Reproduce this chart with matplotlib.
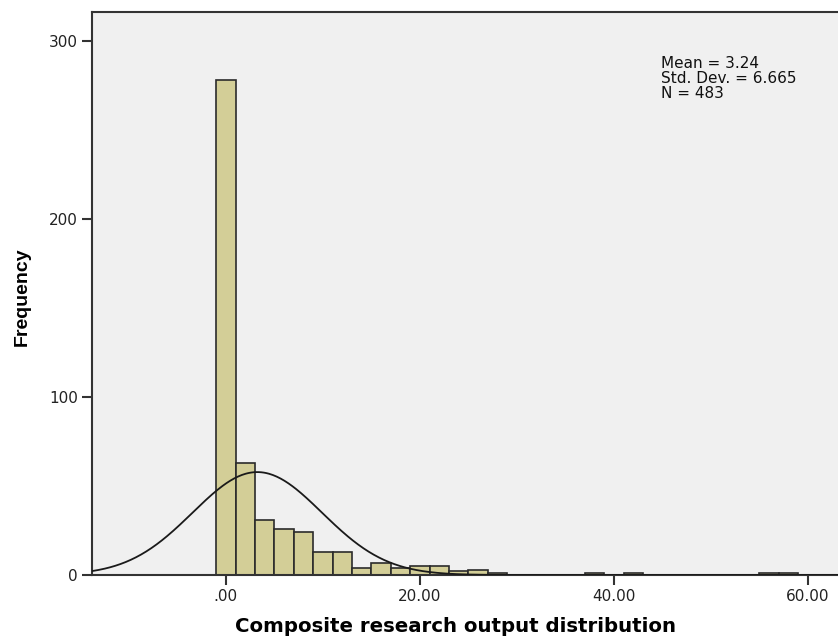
import numpy as np
import matplotlib
matplotlib.use("Agg")
import matplotlib.pyplot as plt

plt.rcParams['font.family'] = ['DejaVu Sans']

# Histogram bins (width 2, centred on even values) and counts
bin_centers = [0, 2, 4, 6, 8, 10, 12, 14, 16, 18, 20, 22, 24, 26, 28, 38, 42, 56, 58]
counts = [278, 63, 31, 26, 24, 13, 13, 4, 7, 4, 5, 5, 2, 3, 1, 1, 1, 1, 1]
bin_width = 2.0

mean_val = 3.24
std_val = 6.665
n_total = 483

x_ticks = [0, 20, 40, 60]
x_tick_labels = [".00", "20.00", "40.00", "60.00"]
y_ticks = [0, 100, 200, 300]

W, H = 838, 636
fig = plt.figure(figsize=(W / 100, H / 100), dpi=100)

x_lo, x_hi = -13.8, 66.0
px_per_unit = 9.7
left_px, bottom_px, top_px = 92, 575, 12
ax_w_px = (x_hi - x_lo) * px_per_unit
ax_h_px = bottom_px - top_px
ax = fig.add_axes([left_px / W, (H - bottom_px) / H, ax_w_px / W, ax_h_px / H])
ax.set_facecolor('#F0F0F0')

ax.bar(bin_centers, counts, width=bin_width, color='#D3CE97',
       edgecolor='#2b2b2b', linewidth=1.2, zorder=2)

# Normal curve scaled to histogram counts
xs = np.linspace(x_lo, x_hi, 600)
pdf = np.exp(-0.5 * ((xs - mean_val) / std_val) ** 2) / (std_val * np.sqrt(2 * np.pi))
ax.plot(xs, pdf * n_total * bin_width, color='#1a1a1a', linewidth=1.3, zorder=3)

ax.set_xlim(x_lo, x_hi)
ax.set_ylim(0, 316.3)
ax.set_xticks(x_ticks)
ax.set_xticklabels(x_tick_labels)
ax.set_yticks(y_ticks)
ax.tick_params(axis='both', direction='out', length=7, width=1.5,
               color='#333333', labelsize=11, labelcolor='#222222', pad=3)

for side in ['left', 'top', 'right', 'bottom']:
    ax.spines[side].set_color('#333333')
    ax.spines[side].set_linewidth(1.5)

ax.set_ylabel('Frequency', fontsize=14, fontweight='bold',
              family=['Liberation Sans', 'DejaVu Sans'], va='center')
ax.yaxis.set_label_coords((22 - left_px) / ax_w_px, (bottom_px - 297) / ax_h_px)
ax.set_xlabel('Composite research output distribution', fontsize=14.2,
              fontweight='bold', va='center')
ax.xaxis.set_label_coords((455 - left_px) / ax_w_px, (bottom_px - 627) / ax_h_px)

ax.text(44.85, 291.5,
        f"Mean = {mean_val}\nStd. Dev. = {std_val}\nN = {n_total}",
        fontsize=11, va='top', ha='left', linespacing=1.0, color='#111111')

fig.savefig('out.png', dpi=100, facecolor='white')
